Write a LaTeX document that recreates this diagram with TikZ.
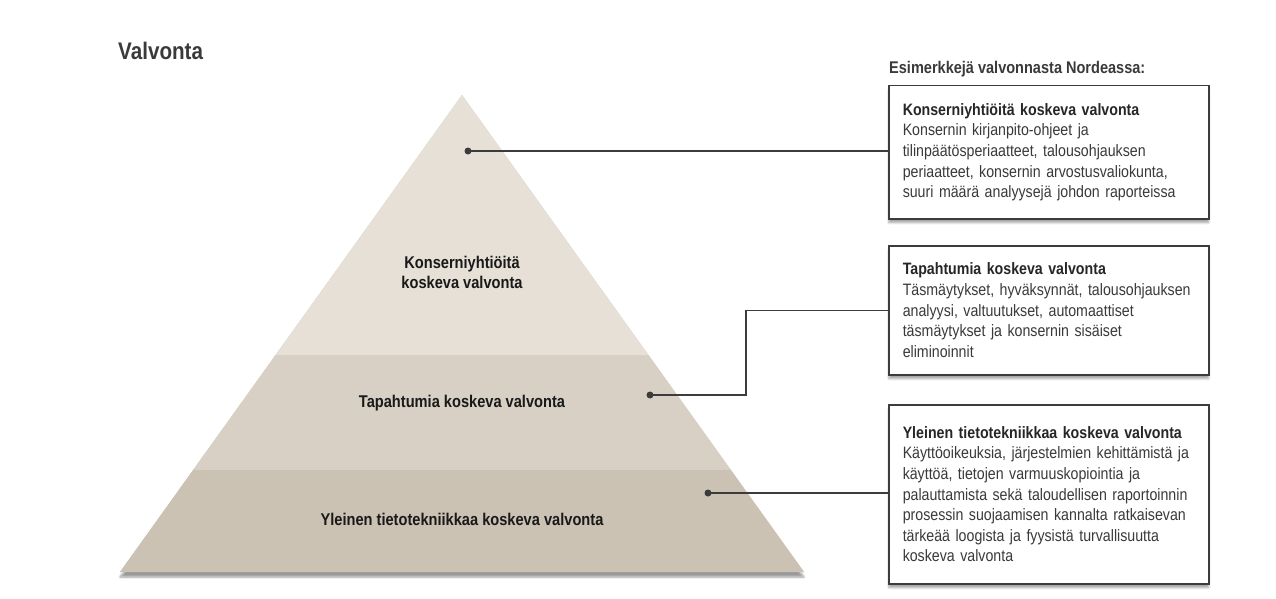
\documentclass[tikz,border=0pt]{standalone}
\usepackage{fontspec}
\setmainfont{Liberation Sans}[FakeStretch=0.86]
\usetikzlibrary{positioning,shadows.blur}

\definecolor{bandtop}{HTML}{E6E0D7}
\definecolor{bandmid}{HTML}{D8D0C4}
\definecolor{bandlow}{HTML}{CBC2B3}
\definecolor{linegray}{HTML}{3C3C3C}
\definecolor{textgray}{HTML}{3A3A3A}

\tikzset{
  lbl/.style={font=\fontsize{17}{20}\selectfont\bfseries, text=black!90, align=center},
  infobox/.style={draw=linegray, line width=1.5pt, fill=white, anchor=north west,
    text width=292pt, inner xsep=14pt, inner ysep=0pt, align=left, text=textgray,
    font=\fontsize{16.5}{20.6}\selectfont,
    blur shadow={shadow xshift=0pt, shadow yshift=-4pt, shadow blur steps=6, shadow opacity=35}},
  dot/.style={circle, fill=linegray, inner sep=0pt, minimum size=7pt},
  conn/.style={draw=linegray, line width=1.5pt}
}

\begin{document}
\begin{tikzpicture}[x=1pt,y=-1pt]
\useasboundingbox (0,0) rectangle (1276,599);

% pyramid with three bands
\coordinate (apex) at (462,95);
\coordinate (bl) at (120,572);
\coordinate (br) at (804,572);
\path[fill=bandlow, blur shadow={shadow xshift=0pt, shadow yshift=-5pt, shadow blur steps=6, shadow opacity=40}]
  (apex)--(bl)--(br)--cycle;
\begin{scope}
\clip (apex)--(bl)--(br)--cycle;
\fill[bandtop] (100,80) rectangle (820,355);
\fill[bandmid] (100,355) rectangle (820,470);
\fill[bandlow] (100,470) rectangle (820,572);
\end{scope}

\node[lbl] (l1) at (462,272) {Konserniyhtiöitä\\koskeva valvonta};
\node[lbl] (l2) at (462,403) {Tapahtumia koskeva valvonta};
\node[lbl] (l3) at (462,519) {Yleinen tietotekniikkaa koskeva valvonta};

% headings
\node[anchor=base west, inner sep=0pt, text=textgray, font=\fontsize{24}{28}\selectfont\bfseries]
  (title) at (118,60) {Valvonta};
\node[anchor=base west, inner sep=0pt, text=textgray, font=\fontsize{16.9}{20}\selectfont\bfseries]
  (hdr) at (889,73.5) {Esimerkkejä valvonnasta Nordeassa:};

% example boxes
\node[infobox, minimum height=133pt] (b1) at (888,85)
  {\textbf{\color{black!85}Konserniyhtiöitä koskeva valvonta}\\
   Konsernin kirjanpito-ohjeet ja\\
   tilinpäätösperiaatteet, talousohjauksen\\
   periaatteet, konsernin arvostusvaliokunta,\\
   suuri määrä analyysejä johdon raporteissa};
\node[infobox, minimum height=129pt] (b2) at (888,245)
  {\textbf{\color{black!85}Tapahtumia koskeva valvonta}\\
   Täsmäytykset, hyväksynnät, talousohjauksen\\
   analyysi, valtuutukset, automaattiset\\
   täsmäytykset ja konsernin sisäiset\\
   eliminoinnit};
\node[infobox, minimum height=179pt] (b3) at (888,404)
  {\textbf{\color{black!85}Yleinen tietotekniikkaa koskeva valvonta}\\
   Käyttöoikeuksia, järjestelmien kehittämistä ja\\
   käyttöä, tietojen varmuuskopiointia ja\\
   palauttamista sekä taloudellisen raportoinnin\\
   prosessin suojaamisen kannalta ratkaisevan\\
   tärkeää loogista ja fyysistä turvallisuutta\\
   koskeva valvonta};

% connectors
\node[dot] (d1) at (468,151) {};
\node[dot] (d2) at (650,395) {};
\node[dot] (d3) at (708,493) {};
\draw[conn] (d1.center) -- (d1 -| b1.west);
\draw[conn] (d2.center) -- ++(96,0) |- (b2.west);
\draw[conn] (d3.center) -- (d3 -| b3.west);
\end{tikzpicture}
\end{document}
